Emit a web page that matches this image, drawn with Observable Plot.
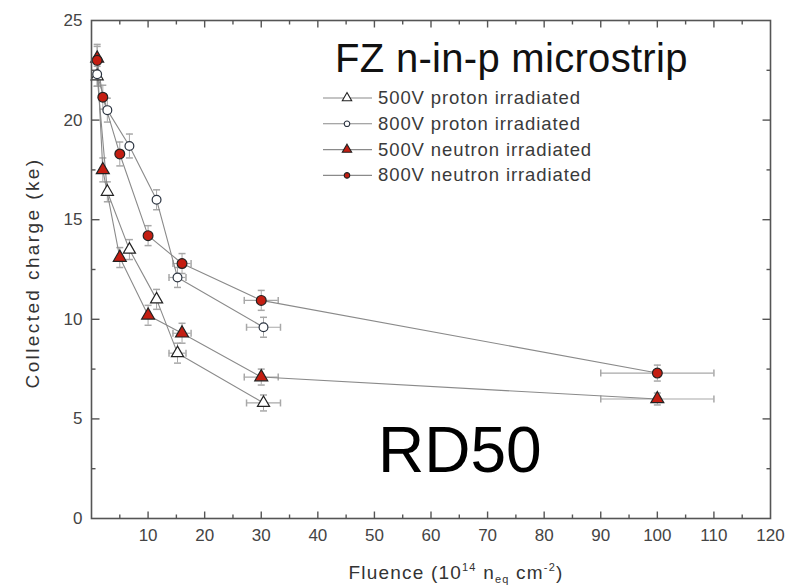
<!DOCTYPE html>
<html><head><meta charset="utf-8">
<script src="https://cdn.jsdelivr.net/npm/d3@7"></script>
<script src="https://cdn.jsdelivr.net/npm/@observablehq/plot@0.6"></script>
<style>
body{margin:0;background:#fff;}
#wrap{position:relative;width:807px;height:585px;font-family:"Liberation Sans",Arial,sans-serif;}
#wrap svg{position:absolute;left:0;top:0;}
</style></head><body><div id="wrap"></div>
<script>
// ---- data ----
const seriesNames = ["500V proton irradiated","800V proton irradiated","500V neutron irradiated","800V neutron irradiated"];
const fluenceProton   = [1, 2.8, 6.7, 11.5, 15.2, 30.4];
const fluenceErrProton = [0.1, 0.3, 0.7, 1.1, 1.5, 3];
const charge500P = [22.2, 16.4, 13.5, 11.0, 8.3, 5.8];
const err500P    = [0.5, 0.5, 0.5, 0.5, 0.5, 0.4];
const charge800P = [22.3, 20.5, 18.7, 16.0, 12.1, 9.6];
const err800P    = [0.6, 0.6, 0.6, 0.5, 0.5, 0.5];
const fluenceNeutron = [1, 2, 5, 10, 16, 30, 100];
const fluenceErrNeutron = [0.1, 0.2, 0.5, 1, 1.6, 3, 10];
const charge500N = [23.1, 17.5, 13.1, 10.2, 9.3, 7.1, 6.0];
const err500N    = [0.7, 0.6, 0.5, 0.5, 0.5, 0.4, 0.3];
const charge800N = [23.0, 21.15, 18.3, 14.2, 12.8, 10.95, 7.3];
const err800N    = [0.7, 0.6, 0.6, 0.5, 0.5, 0.5, 0.4];
const xTickLabels = [10,20,30,40,50,60,70,80,90,100,110,120];
const yTickLabels = [0,5,10,15,20,25];
const xMajorTicks = [10,20,30,40,50,60,70,80,90,100,110];
const xMinorTicks = [5,15,25,35,45,55,65,75,85,95,105,115];
const yMajorTicks = [5,10,15,20];
const yMinorTicks = [2.5,7.5,12.5,17.5,22.5];

// ---- build table ----
function build(name, xs, xe, ys, ye){ return xs.map((x,i)=>({series:name, x, xe:xe[i], y:ys[i], ye:ye[i]})); }
const data = [
  ...build(seriesNames[0], fluenceProton, fluenceErrProton, charge500P, err500P),
  ...build(seriesNames[1], fluenceProton, fluenceErrProton, charge800P, err800P),
  ...build(seriesNames[2], fluenceNeutron, fluenceErrNeutron, charge500N, err500N),
  ...build(seriesNames[3], fluenceNeutron, fluenceErrNeutron, charge800N, err800N)
];
const styles = {
  [seriesNames[0]]: {symbol:"triangle", fill:"#fff", stroke:"#222", r:4.5},
  [seriesNames[1]]: {symbol:"circle", fill:"#fff", stroke:"#2a3340", r:4.4},
  [seriesNames[2]]: {symbol:"triangle", fill:"#c41e12", stroke:"#222", r:4.8},
  [seriesNames[3]]: {symbol:"circle", fill:"#c41e12", stroke:"#222", r:4.9}
};

// ---- custom symbols ----
const seg = (x1,y1,x2,y2)=>({draw(ctx){ctx.moveTo(x1,y1);ctx.lineTo(x2,y2);}});
const capH = seg(-3.5,0,3.5,0), capV = seg(0,-3.5,0,3.5);
const axisColor = "#555";
const tickMarks = [];
for (const [vals,len] of [[xMajorTicks,7],[xMinorTicks,4]]) {
  tickMarks.push(Plot.dot(vals,{x:d=>d, frameAnchor:"bottom", symbol:seg(0,0,0,-len), stroke:axisColor, strokeWidth:1.4, fill:"none"}));
  tickMarks.push(Plot.dot(vals,{x:d=>d, frameAnchor:"top", symbol:seg(0,0,0,len), stroke:axisColor, strokeWidth:1.4, fill:"none"}));
}
for (const [vals,len] of [[yMajorTicks,8],[yMinorTicks,4]]) {
  tickMarks.push(Plot.dot(vals,{y:d=>d, frameAnchor:"left", symbol:seg(0,0,len,0), stroke:axisColor, strokeWidth:1.4, fill:"none"}));
  tickMarks.push(Plot.dot(vals,{y:d=>d, frameAnchor:"right", symbol:seg(0,0,-len,0), stroke:axisColor, strokeWidth:1.4, fill:"none"}));
}

const errColor = "#a8a8a8";
const xErrData = data.filter(d=>d.xe>=1.5);
const chart = Plot.plot({
  width:807, height:585,
  marginLeft:91, marginRight:37, marginTop:20, marginBottom:67,
  style:{fontFamily:"'Liberation Sans',Arial,sans-serif", fontSize:"17px", color:"#444", background:"transparent"},
  x:{domain:[0,120]},
  y:{domain:[0,25]},
  marks:[
    Plot.axisX({ticks:xTickLabels, tickSize:0, tickPadding:10, label:null, fontSize:17, fill:"#444"}),
    Plot.axisY({ticks:yTickLabels, tickSize:0, tickPadding:9, label:null, fontSize:17, fill:"#444"}),
    // error bars
    Plot.ruleX(data,{x:"x", y1:d=>d.y-d.ye, y2:d=>d.y+d.ye, stroke:errColor, strokeWidth:1}),
    Plot.dot(data,{x:"x", y:d=>d.y-d.ye, symbol:capH, stroke:errColor, fill:"none"}),
    Plot.dot(data,{x:"x", y:d=>d.y+d.ye, symbol:capH, stroke:errColor, fill:"none"}),
    Plot.ruleY(xErrData,{y:"y", x1:d=>d.x-d.xe, x2:d=>d.x+d.xe, stroke:errColor, strokeWidth:1.2}),
    Plot.dot(xErrData,{x:d=>d.x-d.xe, y:"y", symbol:capV, stroke:errColor, fill:"none"}),
    Plot.dot(xErrData,{x:d=>d.x+d.xe, y:"y", symbol:capV, stroke:errColor, fill:"none"}),
    // lines
    Plot.line(data,{x:"x", y:"y", z:"series", stroke:"#8a8a8a", strokeWidth:1.1}),
    // markers
    ...seriesNames.map(s=>Plot.dot(data.filter(d=>d.series===s),{x:"x", y:"y", symbol:styles[s].symbol, r:styles[s].r, fill:styles[s].fill, stroke:styles[s].stroke, strokeWidth:1.2})),
    Plot.frame({stroke:axisColor, strokeWidth:1.6}),
    ...tickMarks
  ]
});
const wrap = document.getElementById("wrap");
wrap.appendChild(chart);

// ---- annotations overlay ----
const svg = d3.select(wrap).append("svg").attr("width",807).attr("height",585)
  .style("font-family","'Liberation Sans',Arial,sans-serif").style("pointer-events","none");
svg.append("text").attr("x",335).attr("y",72).attr("font-size",40).attr("letter-spacing","0.3px").attr("fill","#111").text("FZ n-in-p microstrip");
const legendY0 = 104, legendDY = 25.8;
seriesNames.forEach((s,i)=>{
  const cy = legendY0 + i*legendDY - 6;
  svg.append("line").attr("x1",323).attr("x2",372).attr("y1",cy).attr("y2",cy).attr("stroke","#8a8a8a").attr("stroke-width",1.1);
  const st = styles[s];
  const sym = st.symbol==="triangle" ? d3.symbolTriangle : d3.symbolCircle;
  const size = st.symbol==="triangle" ? 38 : 24;
  svg.append("path").attr("d", d3.symbol(sym, size)()).attr("transform",`translate(347,${cy})`)
    .attr("fill",st.fill).attr("stroke",st.stroke).attr("stroke-width",1.1);
  svg.append("text").attr("x",378).attr("y",legendY0 + i*legendDY).attr("font-size",18.5).attr("letter-spacing","0.9px").attr("fill","#3a3a3a").text(s);
});
svg.append("text").attr("x",378).attr("y",472).attr("font-size",64).attr("fill","#000").text("RD50");
// axis titles
const xl = svg.append("text").attr("x",456).attr("y",579).attr("text-anchor","middle").attr("font-size",19).attr("letter-spacing","1.2px").attr("fill","#333");
xl.append("tspan").text("Fluence (10");
xl.append("tspan").attr("font-size",11).attr("dy",-8).text("14");
xl.append("tspan").attr("dy",8).text(" n");
xl.append("tspan").attr("font-size",11).attr("dy",4).text("eq");
xl.append("tspan").attr("dy",-4).text(" cm");
xl.append("tspan").attr("font-size",11).attr("dy",-8).text("-2");
xl.append("tspan").attr("dy",8).text(")");
svg.append("text").attr("transform","translate(39,273) rotate(-90)").attr("text-anchor","middle")
  .attr("font-size",19).attr("letter-spacing","2.4px").attr("fill","#333").text("Collected charge (ke)");
</script></body></html>
